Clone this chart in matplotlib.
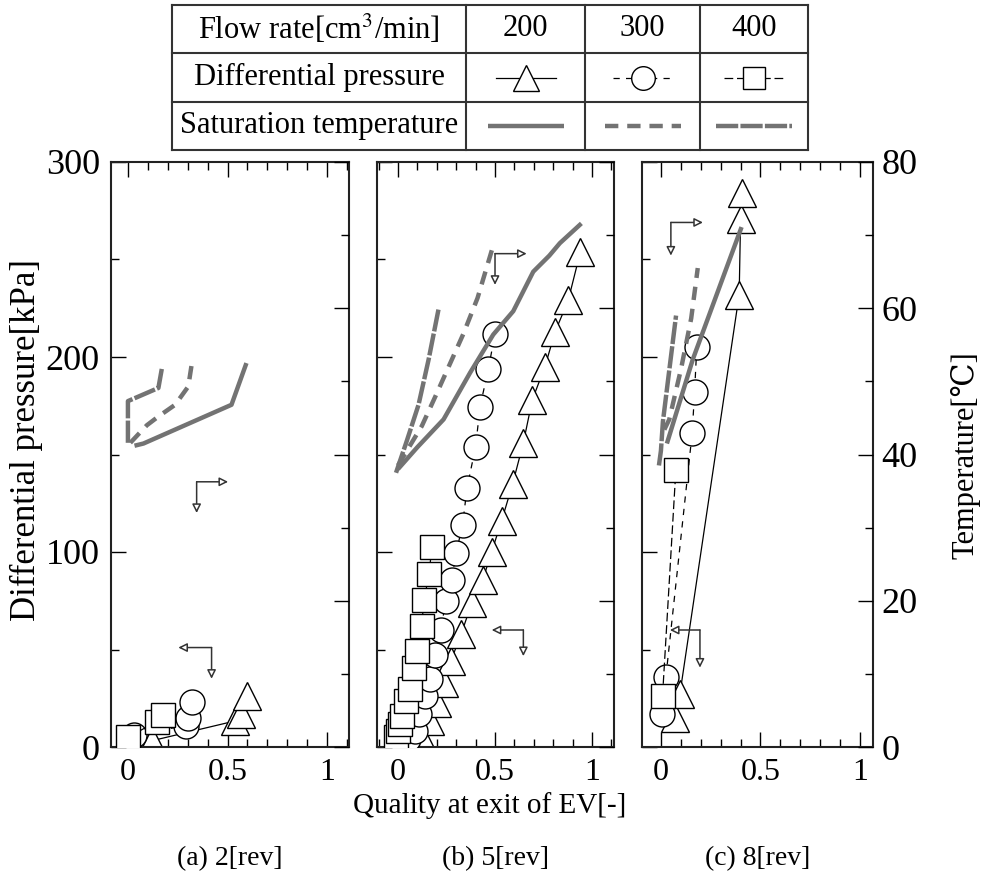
import matplotlib
matplotlib.use('Agg')
import matplotlib.pyplot as plt
from matplotlib.ticker import MultipleLocator, FixedLocator

plt.rcParams['font.family'] = ['Liberation Serif', 'DejaVu Serif', 'DejaVu Sans']
plt.rcParams['mathtext.fontset'] = 'stix'

# ---- data ----
# x: quality at exit of EV [-], p: differential pressure [kPa], t: saturation temperature [C]
flow_rates = ['200', '300', '400']
panel_titles = ['(a) 2[rev]', '(b) 5[rev]', '(c) 8[rev]']

# (a) 2 rev
tri_a_x = [0.12, 0.54, 0.57, 0.60]
tri_a_p = [3.2, 13.4, 16.8, 26.2]
circ_a_x = [0.03, 0.29, 0.303, 0.32]
circ_a_p = [6, 11, 15, 23]
sq_a_x = [0.0, 0.144, 0.178]
sq_a_p = [5, 13, 16.5]
sat200_a_x = [0.033, 0.078, 0.52, 0.595]
sat200_a_t = [41.2, 41.5, 46.8, 52.5]
sat300_a_x = [0.012, 0.095, 0.153, 0.237, 0.303, 0.32]
sat300_a_t = [41.6, 44.0, 45.2, 46.8, 49.3, 52.3]
sat400_a_x = [0.0, 0.0, 0.153, 0.17]
sat400_a_t = [41.6, 47.3, 49.1, 51.7]

# (b) 5 rev
tri_b_x = [0.06, 0.09, 0.113, 0.165, 0.20, 0.237, 0.272, 0.325, 0.38, 0.437,
           0.483, 0.534, 0.591, 0.646, 0.692, 0.757, 0.81, 0.877, 0.94]
tri_b_p = [1.5, 3.5, 6.6, 13.4, 22.8, 33, 44, 57.7, 73.8, 85.7,
           100.2, 116, 135, 156, 178, 195, 213, 229, 254]
circ_b_x = [0.02, 0.05, 0.088, 0.11, 0.139, 0.165, 0.191, 0.22, 0.247,
            0.277, 0.299, 0.333, 0.356, 0.40, 0.423, 0.466, 0.50]
circ_b_p = [1.5, 4, 8.3, 16.8, 26.2, 34.7, 47.4, 60.2, 74.7,
            85.7, 99.3, 114, 133, 154, 174.6, 194, 212]
sq_b_x = [-0.01, 0.0, 0.01, 0.02, 0.041, 0.062, 0.084, 0.096, 0.122, 0.134, 0.161, 0.174]
sq_b_p = [5, 8, 12, 16, 23.6, 29.6, 40.6, 49.1, 61.9, 75.5, 88.8, 102.7]
sat200_b_x = [0.0, 0.10, 0.235, 0.372, 0.491, 0.594, 0.697, 0.78, 0.834, 0.945]
sat200_b_t = [38.0, 41.0, 44.8, 51.2, 56.4, 59.6, 65.0, 67.2, 68.9, 71.6]
sat300_b_x = [0.0, 0.123, 0.192, 0.337, 0.41, 0.49]
sat300_b_t = [38.5, 43.9, 47.9, 56.5, 61.4, 68.5]
sat400_b_x = [-0.01, 0.046, 0.106, 0.158, 0.21]
sat400_b_t = [37.5, 41.9, 46.8, 53.0, 60.0]

# (c) 8 rev
tri_c_x = [0.07, 0.095, 0.393, 0.40, 0.405]
tri_c_p = [15, 27, 232, 271, 284]
circ_c_x = [0.003, 0.025, 0.157, 0.169, 0.18]
circ_c_p = [17, 36, 161, 182, 205]
sq_c_x = [0.008, 0.075]
sq_c_p = [26, 142]
sat200_c_x = [0.03, 0.16, 0.405]
sat200_c_t = [41.5, 53.0, 71.1]
sat300_c_x = [0.017, 0.042, 0.101, 0.152, 0.185]
sat300_c_t = [43.4, 44.8, 51.7, 58.6, 65.5]
sat400_c_x = [-0.01, 0.0, 0.01, 0.035, 0.076]
sat400_c_t = [38.5, 40.5, 44.5, 50.0, 59.0]

# axis-indicator arrows: (corner, end of horizontal arm, end of vertical arm) in (x, kPa)
arrow_right_a = [(0.345, 136), (0.503, 136), (0.345, 120)]
arrow_left_a = [(0.42, 51), (0.253, 51), (0.42, 35)]
arrow_right_b = [(0.50, 253), (0.663, 253), (0.50, 237)]
arrow_left_b = [(0.646, 60), (0.483, 60), (0.646, 46.6)]
arrow_right_c = [(0.05, 269), (0.211, 269), (0.05, 252)]
arrow_left_c = [(0.196, 60), (0.045, 60), (0.196, 40.7)]

# ---- styles ----
W, H = 984, 882
SAT_COLOR = '#737373'
sat_styles = ['-', (0, (3, 2)), (0, (5, 0.5))]
dp_styles = [dict(marker='^', ms=20, ls='-'),
             dict(marker='o', ms=18, ls=(0, (5, 5))),
             dict(marker='s', ms=17, ls=(0, (7, 3)))]

panels = [
    dict(box=(111, 162, 349, 747), xlim=(-0.085, 1.11),
         dp=[(tri_a_x, tri_a_p), (circ_a_x, circ_a_p), (sq_a_x, sq_a_p)],
         sat=[(sat200_a_x, sat200_a_t), (sat300_a_x, sat300_a_t), (sat400_a_x, sat400_a_t)],
         arrows=[arrow_right_a, arrow_left_a]),
    dict(box=(377, 162, 614, 747), xlim=(-0.108, 1.113),
         dp=[(tri_b_x, tri_b_p), (circ_b_x, circ_b_p), (sq_b_x, sq_b_p)],
         sat=[(sat200_b_x, sat200_b_t), (sat300_b_x, sat300_b_t), (sat400_b_x, sat400_b_t)],
         arrows=[arrow_right_b, arrow_left_b]),
    dict(box=(642, 162, 873, 747), xlim=(-0.095, 1.065),
         dp=[(tri_c_x, tri_c_p), (circ_c_x, circ_c_p), (sq_c_x, sq_c_p)],
         sat=[(sat200_c_x, sat200_c_t), (sat300_c_x, sat300_c_t), (sat400_c_x, sat400_c_t)],
         arrows=[arrow_right_c, arrow_left_c]),
]


def fig_box(l, t, r, b):
    return [l / W, 1 - b / H, (r - l) / W, (b - t) / H]


fig = plt.figure(figsize=(W / 100, H / 100), dpi=100)

for i, pan in enumerate(panels):
    ax = fig.add_axes(fig_box(*pan['box']))
    ax.set_xlim(*pan['xlim'])
    ax.set_ylim(0, 300)
    ax.set_facecolor('none')

    # differential pressure series (drawn first, squares on top)
    for k, (xs, ps) in enumerate(pan['dp']):
        st = dp_styles[k]
        ax.plot(xs, ps, color='black', lw=0.9, ls=st['ls'], marker=st['marker'],
                ms=st['ms'], mfc='white', mec='black', mew=1.0, zorder=2 + k)

    # saturation temperature on the right scale (80 C == 300 kPa)
    for k, (xs, ts) in enumerate(pan['sat']):
        ps = [t * 300 / 80 for t in ts]
        ax.plot(xs, ps, color=SAT_COLOR, lw=3.2, ls=sat_styles[k],
                solid_capstyle='butt', zorder=6)

    for corner, hend, vend in pan['arrows']:
        for end in (hend, vend):
            ax.annotate('', xy=end, xytext=corner,
                        arrowprops=dict(arrowstyle='-|>', lw=1.1, color='#333333',
                                        fc='white', mutation_scale=13,
                                        shrinkA=0, shrinkB=0), zorder=7)

    ax.xaxis.set_major_locator(FixedLocator([0, 0.5, 1]))
    ax.xaxis.set_minor_locator(MultipleLocator(0.1))
    ax.set_xticklabels(['0', '0.5', '1'])
    ax.yaxis.set_major_locator(MultipleLocator(100))
    ax.yaxis.set_minor_locator(MultipleLocator(50))
    ax.tick_params(axis='x', which='both', direction='in', top=True, bottom=True,
                   labelsize=23, pad=8, width=1)
    ax.tick_params(axis='y', which='both', direction='in', left=True, right=False,
                   labelsize=26, pad=8, width=1, labelleft=(i == 0))
    ax.tick_params(which='major', length=11)
    ax.tick_params(which='minor', length=6)
    for sp in ax.spines.values():
        sp.set_linewidth(1.5)
        sp.set_color('#222222')

    ax2 = ax.twinx()
    ax2.set_ylim(0, 80)
    ax2.yaxis.set_major_locator(MultipleLocator(20))
    ax2.yaxis.set_minor_locator(MultipleLocator(10))
    ax2.tick_params(axis='y', which='both', direction='in', labelsize=26, pad=6,
                    width=1, labelright=(i == 2))
    ax2.tick_params(which='major', length=11)
    ax2.tick_params(which='minor', length=6)
    for sp in ax2.spines.values():
        sp.set_visible(False)

    cx = (pan['box'][0] + pan['box'][2]) / 2
    fig.text(cx / W, 1 - 859 / H, panel_titles[i], ha='center', va='center', fontsize=20)

fig.text(490 / W, 1 - 806 / H, 'Quality at exit of EV[-]', ha='center', va='center', fontsize=21)
fig.text(26 / W, 1 - 440 / H, 'Differential pressure[kPa]', ha='center', va='center',
         rotation=90, fontsize=25)
fig.text(965 / W, 1 - 455 / H, 'Temperature[\u2103]', ha='center', va='center',
         rotation=90, fontsize=22)

# ---- legend table (pixel coordinates of the figure) ----
tab = fig.add_axes([0, 0, 1, 1])
tab.set_xlim(0, W)
tab.set_ylim(H, 0)
tab.axis('off')
tab.patch.set_alpha(0)

t_left, t_right = 172, 808
row_edges = [5, 53, 102, 150]
col_edges = [172, 466, 585, 700, 808]
for y in row_edges:
    tab.plot([t_left, t_right], [y, y], color='#333333', lw=1.5)
for x in col_edges:
    tab.plot([x, x], [row_edges[0], row_edges[-1]], color='#333333', lw=1.5)

row_mid = [(row_edges[j] + row_edges[j + 1]) / 2 for j in range(3)]
col_mid = [(col_edges[j] + col_edges[j + 1]) / 2 for j in range(4)]
tab.text(col_mid[0], row_mid[0], 'Flow rate[cm$^3$/min]', ha='center', va='center', fontsize=22)
tab.text(col_mid[0], row_mid[1], 'Differential pressure', ha='center', va='center', fontsize=22)
tab.text(col_mid[0], row_mid[2], 'Saturation temperature', ha='center', va='center', fontsize=22)
for k in range(3):
    cx = col_mid[k + 1]
    tab.text(cx, row_mid[0], flow_rates[k], ha='center', va='center', fontsize=22)
    st = dp_styles[k]
    tab.plot([cx - 30, cx + 30], [row_mid[1], row_mid[1]], color='black', lw=0.9, ls=st['ls'])
    tab.plot([cx], [row_mid[1]], marker=st['marker'], ms=st['ms'] - 1, mfc='white',
             mec='black', mew=1.0, ls='none')
    tab.plot([cx - 38, cx + 38], [row_mid[2], row_mid[2]], color=SAT_COLOR, lw=3.2,
             ls=sat_styles[k], solid_capstyle='butt')

fig.savefig('out.png', dpi=100)
